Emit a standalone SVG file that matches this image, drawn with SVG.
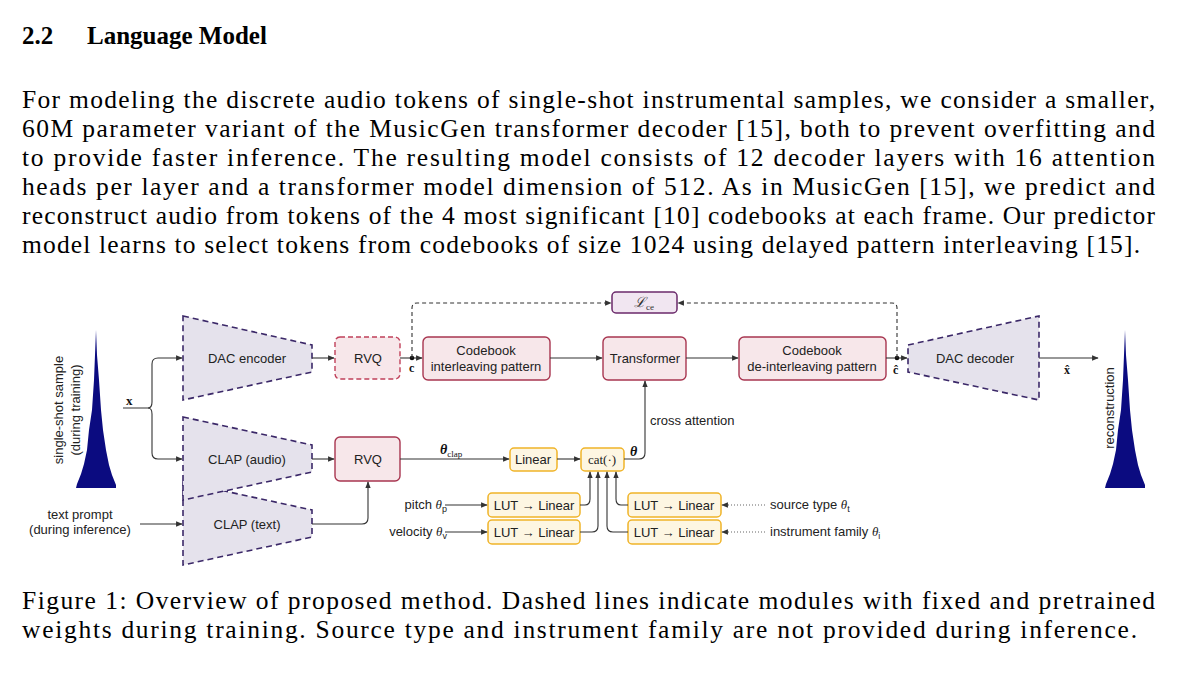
<svg xmlns="http://www.w3.org/2000/svg" width="1200" height="687" viewBox="0 0 1200 687">
<defs>
<style>
.serif{font-family:"Liberation Serif","Times New Roman",serif;fill:#000}
.sans{font-family:"Liberation Sans",Arial,sans-serif;fill:#222;font-size:13px}
.trap{fill:#e5e2ec;stroke:#3b2868;stroke-width:1.6;stroke-dasharray:6 4}
.pink{fill:#f7e7ea;stroke:#a83650;stroke-width:1.4}
.pinkd{fill:#f7e7ea;stroke:#c0405a;stroke-width:1.4;stroke-dasharray:5 3}
.yel{fill:#fdf6e2;stroke:#f0b429;stroke-width:1.5}
.lce{fill:#f1e6f1;stroke:#6b2a6b;stroke-width:1.5}
.ln{fill:none;stroke:#333;stroke-width:1.1}
.dash{fill:none;stroke:#333;stroke-width:1.1;stroke-dasharray:4 3}
.dot{fill:none;stroke:#666;stroke-width:1.1;stroke-dasharray:1 2}
.wave{fill:#0b0b80}
</style>
<marker id="a" viewBox="0 0 10 10" refX="9" refY="5" markerWidth="6" markerHeight="6" orient="auto"><path d="M0,1 L10,5 L0,9 z" fill="#333"/></marker>
</defs>
<rect width="1200" height="687" fill="#fff"/>
<text class="serif" x="22" y="44" font-size="25" font-weight="bold">2.2</text>
<text class="serif" x="87" y="44" font-size="25" font-weight="bold">Language Model</text>
<g class="serif" font-size="25.5">
<text x="22" y="108" textLength="1133" lengthAdjust="spacing">For modeling the discrete audio tokens of single-shot instrumental samples, we consider a smaller,</text>
<text x="22" y="137" textLength="1133" lengthAdjust="spacing">60M parameter variant of the MusicGen transformer decoder [15], both to prevent overfitting and</text>
<text x="22" y="166" textLength="1133" lengthAdjust="spacing">to provide faster inference.  The resulting model consists of 12 decoder layers with 16 attention</text>
<text x="22" y="195" textLength="1133" lengthAdjust="spacing">heads per layer and a transformer model dimension of 512. As in MusicGen [15], we predict and</text>
<text x="22" y="224" textLength="1133" lengthAdjust="spacing">reconstruct audio from tokens of the 4 most significant [10] codebooks at each frame. Our predictor</text>
<text x="22" y="253" textLength="1118" lengthAdjust="spacing">model learns to select tokens from codebooks of size 1024 using delayed pattern interleaving [15].</text>
<text x="22" y="609" textLength="1133" lengthAdjust="spacing">Figure 1: Overview of proposed method. Dashed lines indicate modules with fixed and pretrained</text>
<text x="22" y="638" textLength="1115" lengthAdjust="spacing">weights during training. Source type and instrument family are not provided during inference.</text>
</g>

<g id="input-wave">
<path class="wave" d="M96,330 L97,355 L99,380 L101,410 L103,430 L106,450 L109,465 L112,475 L116,485 L116,488 L76,488 L77,484 L81,474 L84,464 L87,450 L89,430 L92,410 L94,380 L95,355 Z"/>
<text class="sans" transform="translate(63,410) rotate(-90)" text-anchor="middle" font-size="12.5">single-shot sample</text>
<text class="sans" transform="translate(80,410) rotate(-90)" text-anchor="middle" font-size="12.5">(during training)</text>
</g>
<g id="recon-wave">
<path class="wave" d="M1125,330 L1126,355 L1128,380 L1130,410 L1132,430 L1135,450 L1138,465 L1141,475 L1145,485 L1145,488 L1105,488 L1106,484 L1110,474 L1113,464 L1116,450 L1118,430 L1121,410 L1123,380 L1124,355 Z"/>
<text class="sans" transform="translate(1114,408) rotate(-90)" text-anchor="middle" font-size="12.5">reconstruction</text>
</g>
<g id="text-prompt">
<text class="sans" x="80" y="519" text-anchor="middle" font-size="12.5">text prompt</text>
<text class="sans" x="80" y="534" text-anchor="middle" font-size="12.5">(during inference)</text>
</g>

<g id="clap-text"><path class="trap" d="M183,482 L312,510 L312,537 L183,565 Z"/><text class="sans" x="247" y="529" text-anchor="middle">CLAP (text)</text></g>
<g id="clap-audio"><path class="trap" d="M183,417 L312,445 L312,472 L183,500 Z"/><text class="sans" x="247" y="464" text-anchor="middle">CLAP (audio)</text></g>
<g id="dac-encoder"><path class="trap" d="M183,316 L312,345 L312,372 L183,400 Z"/><text class="sans" x="247" y="363" text-anchor="middle">DAC encoder</text></g>
<g id="dac-decoder"><path class="trap" d="M908,345 L1039,316 L1039,400 L908,372 Z"/><text class="sans" x="975" y="363" text-anchor="middle">DAC decoder</text></g>
<g id="rvq1"><rect class="pinkd" x="335" y="337" width="65" height="42" rx="5"/><text class="sans" x="368" y="363" text-anchor="middle">RVQ</text></g>
<g id="rvq2"><rect class="pink" x="335" y="437" width="65" height="44" rx="5"/><text class="sans" x="368" y="464" text-anchor="middle">RVQ</text></g>
<g id="interleave"><rect class="pink" x="423" y="337" width="127" height="43" rx="5"/><text class="sans" x="486" y="355" text-anchor="middle">Codebook</text><text class="sans" x="486" y="371" text-anchor="middle">interleaving pattern</text></g>
<g id="transformer"><rect class="pink" x="603" y="337" width="83" height="43" rx="5"/><text class="sans" x="645" y="363" text-anchor="middle">Transformer</text></g>
<g id="deinterleave"><rect class="pink" x="739" y="337" width="147" height="43" rx="5"/><text class="sans" x="812" y="355" text-anchor="middle">Codebook</text><text class="sans" x="812" y="371" text-anchor="middle">de-interleaving pattern</text></g>
<g id="lce"><rect class="lce" x="612" y="292" width="65" height="21" rx="4"/><text x="644" y="307" text-anchor="middle" font-family="Liberation Serif,serif" font-style="italic" font-size="14" fill="#333">ℒ<tspan font-style="normal" font-size="9" dy="3">ce</tspan></text></g>
<g id="linear"><rect class="yel" x="510" y="448" width="47" height="23" rx="4"/><text class="sans" x="533" y="464" text-anchor="middle">Linear</text></g>
<g id="cat"><rect class="yel" x="581" y="448" width="43" height="23" rx="4"/><text x="602" y="464" text-anchor="middle" font-family="Liberation Serif,serif" font-size="13" fill="#222">cat(·)</text></g>
<g id="lut-pitch"><rect class="yel" x="488" y="493" width="92" height="24" rx="4"/><text class="sans" x="534" y="510" text-anchor="middle">LUT → Linear</text></g>
<g id="lut-vel"><rect class="yel" x="488" y="520" width="92" height="24" rx="4"/><text class="sans" x="534" y="537" text-anchor="middle">LUT → Linear</text></g>
<g id="lut-src"><rect class="yel" x="628" y="493" width="93" height="24" rx="4"/><text class="sans" x="674" y="510" text-anchor="middle">LUT → Linear</text></g>
<g id="lut-inst"><rect class="yel" x="628" y="520" width="93" height="24" rx="4"/><text class="sans" x="674" y="537" text-anchor="middle">LUT → Linear</text></g>

<g id="labels" class="sans">
<text x="447" y="509" text-anchor="end">pitch <tspan font-family="Liberation Serif,serif" font-style="italic">θ</tspan><tspan font-size="9" dy="3">p</tspan></text>
<text x="447" y="536" text-anchor="end">velocity <tspan font-family="Liberation Serif,serif" font-style="italic">θ</tspan><tspan font-size="9" dy="3">v</tspan></text>
<text x="770" y="509">source type <tspan font-family="Liberation Serif,serif" font-style="italic">θ</tspan><tspan font-size="9" dy="3">t</tspan></text>
<text x="770" y="536">instrument family <tspan font-family="Liberation Serif,serif" font-style="italic">θ</tspan><tspan font-size="9" dy="3">i</tspan></text>
<text x="650" y="425">cross attention</text>
<text x="440" y="454" font-family="Liberation Serif,serif" font-weight="bold" font-style="italic" font-size="14" fill="#111">θ<tspan font-size="9" font-weight="normal" font-style="normal" dy="3">clap</tspan></text>
<text x="630" y="456" font-family="Liberation Serif,serif" font-weight="bold" font-style="italic" font-size="14" fill="#111">θ</text>
<text x="126" y="405" font-family="Liberation Serif,serif" font-weight="bold" font-size="13" fill="#111">x</text>
<text x="409" y="372" font-family="Liberation Serif,serif" font-weight="bold" font-size="12" fill="#111">c</text>
<text x="893" y="374" font-family="Liberation Serif,serif" font-weight="bold" font-size="12" fill="#111">ĉ</text>
<text x="1064" y="374" font-family="Liberation Serif,serif" font-weight="bold" font-size="12" fill="#111">x̂</text>
</g>

<g id="connectors">
<path class="ln" d="M123,408 H148 Q152,408 152,402 V364 Q152,358 158,358 H182" marker-end="url(#a)"/>
<path class="ln" d="M148,408 Q152,408 152,414 V453 Q152,459 158,459 H182" marker-end="url(#a)"/>
<path class="ln" d="M140,524 H182" marker-end="url(#a)"/>
<path class="ln" d="M312,358 H334" marker-end="url(#a)"/>
<path class="ln" d="M312,459 H334" marker-end="url(#a)"/>
<path class="ln" d="M312,524 H362 Q368,524 368,518 V482" marker-end="url(#a)"/>
<path class="ln" d="M400,358 H422" marker-end="url(#a)"/>
<circle cx="412" cy="358" r="2.3" fill="#111"/>
<path class="ln" d="M550,358 H602" marker-end="url(#a)"/>
<path class="ln" d="M686,358 H738" marker-end="url(#a)"/>
<path class="ln" d="M886,358 H907" marker-end="url(#a)"/>
<circle cx="897" cy="358" r="2.3" fill="#111"/>
<path class="ln" d="M1039,358 H1098" marker-end="url(#a)"/>
<path class="dash" d="M412,358 V308 Q412,303 417,303 H611" marker-end="url(#a)"/>
<path class="dash" d="M897,358 V308 Q897,303 892,303 H678" marker-end="url(#a)"/>
<path class="ln" d="M400,459 H509" marker-end="url(#a)"/>
<path class="ln" d="M557,459 H580" marker-end="url(#a)"/>
<path class="ln" d="M624,459 H639 Q645,459 645,453 V381" marker-end="url(#a)"/>
<path class="ln" d="M445,505 H487" marker-end="url(#a)"/>
<path class="ln" d="M445,532 H487" marker-end="url(#a)"/>
<path class="dot" d="M765,505 H722" marker-end="url(#a)"/>
<path class="dot" d="M765,532 H722" marker-end="url(#a)"/>
<path class="ln" d="M580,505 H585 Q590,505 590,499 V472" marker-end="url(#a)"/>
<path class="ln" d="M580,532 H592 Q598,532 598,526 V472" marker-end="url(#a)"/>
<path class="ln" d="M628,505 H621 Q616,505 616,499 V472" marker-end="url(#a)"/>
<path class="ln" d="M628,532 H613 Q607,532 607,526 V472" marker-end="url(#a)"/>
</g>
</svg>
